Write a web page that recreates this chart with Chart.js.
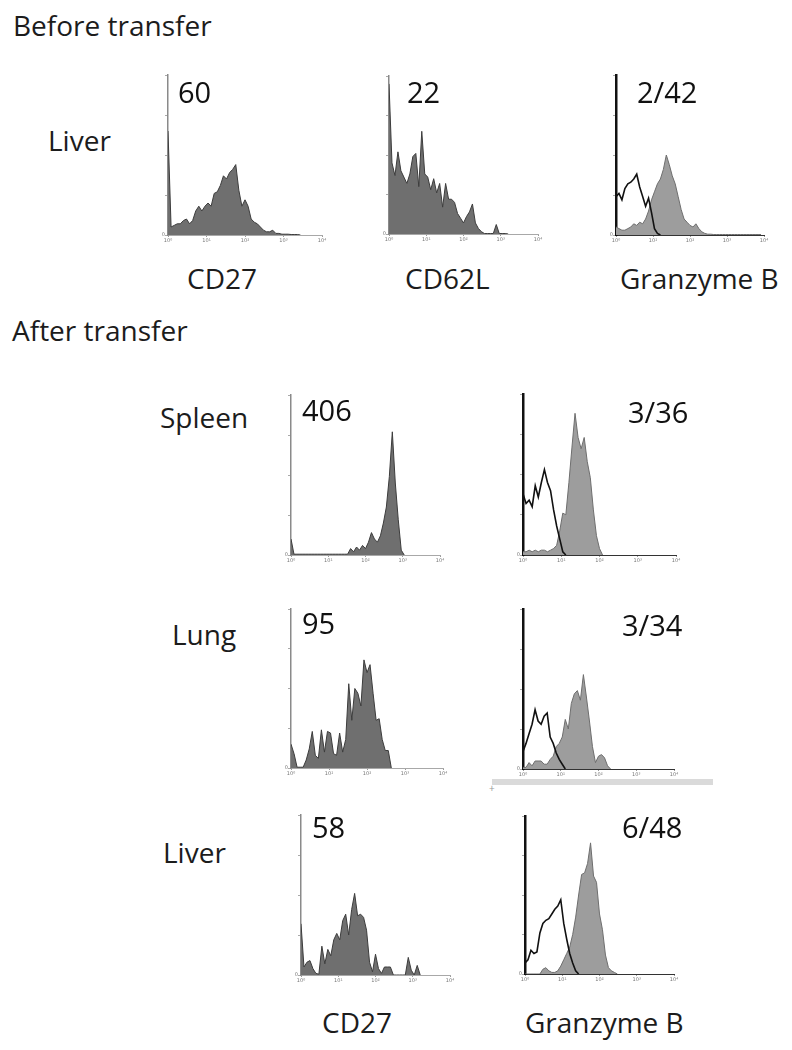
<!DOCTYPE html>
<html>
<head>
<meta charset="utf-8">
<script src="https://cdn.jsdelivr.net/npm/chart.js@4.4.1/dist/chart.umd.min.js"></script>
<style>
  body { margin: 0; background: #fff; }
  #fig { position: relative; width: 792px; height: 1050px; font-family: 'Open Sans', sans-serif; color: #1c1c1c; overflow: hidden; }
  .t { position: absolute; font-size: 28px; line-height: 28px; white-space: nowrap; }
  .n { position: absolute; font-size: 29px; line-height: 29px; white-space: nowrap; color: #111; }
  canvas { position: absolute; }
  #bar { position: absolute; left: 492px; top: 779px; width: 221px; height: 6px; background: #dadada; }
  #plus { position: absolute; left: 489px; top: 783px; font-size: 10px; line-height: 10px; color: #999; }
</style>
</head>
<body>
<div id="fig">
  <div class="t" style="left:13px;top:11px">Before transfer</div>
  <div class="t" style="left:48px;top:126px">Liver</div>
  <div class="t" style="left:187px;top:264px">CD27</div>
  <div class="t" style="left:405px;top:264px">CD62L</div>
  <div class="t" style="left:620px;top:264px">Granzyme B</div>

  <div class="t" style="left:12px;top:316px">After transfer</div>
  <div class="t" style="left:160px;top:403px">Spleen</div>
  <div class="t" style="left:172px;top:620px">Lung</div>
  <div class="t" style="left:163px;top:838px">Liver</div>
  <div class="t" style="left:322px;top:1008px">CD27</div>
  <div class="t" style="left:525px;top:1008px">Granzyme B</div>

  <div id="bar"></div>
  <div id="plus">+</div>
</div>

<script>
// log fluorescence axis: 4 decades, one bin = 0.08 decade
const BIN = 0.08;
const decadeTicks = [0, 1, 2, 3, 4];
const tickLabels = ['10⁰', '10¹', '10²', '10³', '10⁴'];

// histogram heights, % of the panel height, bin by bin from 10^0
const beforeLiverCD27 = [65, 5, 6, 7, 7, 9, 10, 7, 9, 15, 18, 15, 18, 20, 18, 26, 27, 31, 37, 35, 39, 41, 44, 28, 18, 22, 18, 10, 8, 7, 5, 3, 2, 2, 3, 1, 1, 0.5, 0.5, 0.5, 0.3, 0.3, 0.3, 0];
const beforeLiverCD62L = [95, 45, 37, 52, 40, 36, 32, 38, 49, 51, 30, 65, 38, 36, 28, 35, 26, 32, 17, 32, 22, 22, 20, 13, 10, 7, 11, 14, 19, 7, 3.5, 1.5, 0.3, 0.3, 0.3, 0.3, 6, 0.3, 0.3, 0.3, 0];
const beforeLiverGzb = [5, 4, 3, 3, 4, 5, 7, 6, 8, 7, 10, 15, 22, 27, 32, 35, 41, 50, 44, 37, 32, 24, 16, 10, 8, 6, 5, 7, 4, 2, 1, 0.5, 0.5, 0.3, 0.3, 0.3, 0.3, 0.3, 0.3, 0.3, 0.3, 0.3, 0.3, 0.3, 0.3, 0.3, 0.3, 0.3, 0.3, 0.3];
const beforeLiverIso = [24, 26, 22, 29, 32, 33, 35, 38, 30, 24, 18, 23, 14, 4, 1, 0];

const spleenCD27 = [10, 0.5, 0.5, 0.5, 0.5, 0.5, 0.5, 0.5, 0.5, 0.5, 0.5, 0.5, 0.5, 0.5, 0.5, 0.5, 0.5, 0.5, 0.5, 0.5, 4, 2, 5, 3, 6, 4, 8, 14, 10, 8, 12, 20, 30, 49, 77, 45, 22, 3, 0];
const spleenGzb = [2, 2, 3, 2, 3, 2, 3, 3, 2, 3, 4, 6, 15, 26, 25, 45, 67, 88, 73, 66, 73, 58, 48, 28, 12, 4, 0];
const spleenIso = [38, 32, 34, 30, 43, 36, 45, 53, 45, 40, 28, 18, 10, 2, 0];

const lungCD27 = [15, 9, 0.5, 0.5, 0.5, 5, 12, 23, 8, 6, 24, 10, 23, 22, 9, 8, 22, 10, 18, 53, 30, 50, 47, 39, 68, 60, 65, 47, 30, 31, 18, 11, 11, 0];
const lungGzb = [1, 1, 4, 2, 5, 5, 5, 3, 3, 6, 8, 14, 16, 20, 31, 25, 41, 47, 49, 43, 59, 45, 30, 14, 4, 8, 9, 7, 2, 0];
const lungIso = [11, 16, 22, 28, 37, 30, 28, 33, 35, 20, 16, 10, 6, 3, 0];

const liverCD27 = [32, 5, 8, 9, 4, 1, 0.5, 18, 7, 16, 12, 22, 26, 22, 34, 38, 25, 41, 51, 37, 38, 36, 28, 8, 2, 13, 4, 1, 5, 5, 5, 0, 0, 0, 0, 0, 11, 3, 0, 6, 0];
const liverGzb = [0, 0, 0, 0, 0, 0, 3, 4, 2, 1, 1, 2, 5, 9, 13, 17, 25, 36, 50, 63, 64, 70, 83, 62, 58, 38, 28, 12, 4, 2, 1, 0];
const liverIso = [7, 9, 15, 13, 14, 26, 32, 34, 35, 38, 41, 43, 47, 32, 22, 13, 7, 2, 0];

// numbers printed in each panel (MFI, or isotype/stained MFI)
const panelNumbers = ['60', '22', '2/42', '406', '3/36', '95', '3/34', '58', '6/48'];

// plot boxes [left, top, right(10^4), baseline] and where the number sits
const panels = [
  { values: beforeLiverCD27, iso: null, box: [168, 75, 322, 235], num: [178, 77] },
  { values: beforeLiverCD62L, iso: null, box: [389, 76, 538, 234], num: [407, 77] },
  { values: beforeLiverGzb, iso: beforeLiverIso, box: [616, 75, 764, 235], num: [637, 77] },
  { values: spleenCD27, iso: null, box: [291, 395, 440, 555], num: [302, 395] },
  { values: spleenGzb, iso: spleenIso, box: [523, 394, 676, 555], num: [628, 397] },
  { values: lungCD27, iso: null, box: [291, 609, 443, 768], num: [302, 608] },
  { values: lungGzb, iso: lungIso, box: [523, 609, 674, 769], num: [622, 610] },
  { values: liverCD27, iso: null, box: [301, 815, 450, 975], num: [312, 812] },
  { values: liverGzb, iso: liverIso, box: [525, 816, 674, 974], num: [622, 812] }
];

const PAD_T = 4, PAD_R = 8, Y_W = 8, X_H = 12;
const fig = document.getElementById('fig');

function toPoints(values) {
  return values.map((v, i) => ({ x: i * BIN, y: v }));
}

function makeHistogram(panel, number) {
  const [left, top, right, bottom] = panel.box;
  const isGzb = !!panel.iso;

  const canvas = document.createElement('canvas');
  canvas.width = right - left + Y_W + PAD_R;
  canvas.height = bottom - top + PAD_T + X_H;
  canvas.style.left = (left - Y_W) + 'px';
  canvas.style.top = (top - PAD_T) + 'px';
  fig.appendChild(canvas);

  const label = document.createElement('div');
  label.className = 'n';
  label.textContent = number;
  label.style.left = panel.num[0] + 'px';
  label.style.top = panel.num[1] + 'px';
  fig.appendChild(label);

  const datasets = [];
  if (isGzb) {
    datasets.push({
      data: toPoints(panel.iso),
      borderColor: '#111',
      borderWidth: 1.6,
      pointRadius: 0,
      fill: false,
      tension: 0
    });
  }
  datasets.push({
    data: toPoints(panel.values),
    borderColor: isGzb ? '#6e6e6e' : '#3c3c3c',
    borderWidth: 1,
    backgroundColor: isGzb ? '#9d9d9d' : '#6f6f6f',
    pointRadius: 0,
    fill: 'origin',
    tension: 0
  });

  return new Chart(canvas.getContext('2d'), {
    type: 'line',
    data: { datasets },
    options: {
      responsive: false,
      animation: false,
      devicePixelRatio: 1,
      layout: { padding: { top: PAD_T, right: PAD_R, left: 0, bottom: 0 } },
      plugins: { legend: { display: false }, tooltip: { enabled: false } },
      scales: {
        x: {
          type: 'linear',
          min: 0,
          max: 4,
          afterFit: (s) => { s.height = X_H; },
          afterBuildTicks: (s) => { s.ticks = decadeTicks.map((v) => ({ value: v })); },
          ticks: {
            color: '#777',
            font: { size: 5, family: 'DejaVu Sans' },
            padding: 1,
            maxRotation: 0,
            callback: (v) => tickLabels[v]
          },
          grid: { drawOnChartArea: false, tickLength: 2, color: '#999' },
          border: { color: isGzb ? '#333' : '#a8a8a8', width: 1 }
        },
        y: {
          min: 0,
          max: 100,
          afterFit: (s) => { s.width = Y_W; },
          ticks: {
            stepSize: 25,
            color: '#777',
            padding: 0,
            font: { size: 5, family: 'DejaVu Sans' },
            callback: (v) => (v === 0 ? '0' : '')
          },
          grid: { drawOnChartArea: false, tickLength: 3, color: '#aaa' },
          border: { color: isGzb ? '#111' : '#8a8a8a', width: isGzb ? 2.5 : 1.5 }
        }
      }
    }
  });
}

panels.forEach((p, i) => makeHistogram(p, panelNumbers[i]));
</script>
</body>
</html>
